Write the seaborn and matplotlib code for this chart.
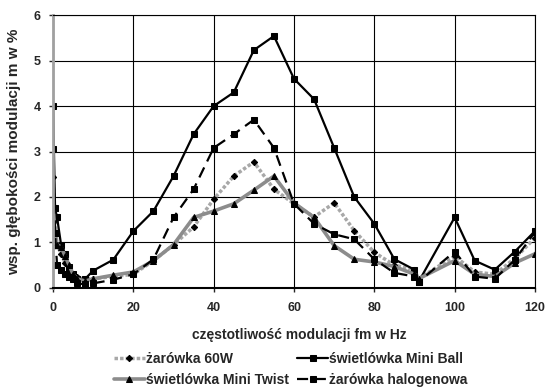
import numpy as np
import pandas as pd
import matplotlib
matplotlib.use('Agg')
import matplotlib.pyplot as plt
import seaborn as sns

# data
freq = [0, 0.5, 1, 2, 3, 4, 5, 6, 8, 10, 15, 20, 25, 30, 35, 40, 45, 50, 55,
        60, 65, 70, 75, 80, 85, 90, 91, 100, 105, 110, 115, 120]

zarowka_60w = [2.45, 1.5, 0.95, 0.75, 0.55, 0.4, 0.3, 0.25, 0.2, 0.2, 0.25, 0.3, 0.6,
               0.95, 1.34, 1.95, 2.46, 2.77, 2.17, 1.85, 1.56, 1.87, 1.26, 0.78, 0.5,
               0.4, 0.2, 0.7, 0.35, 0.3, 0.65, 1.1]
mini_ball = [4.0, 1.75, 1.55, 0.95, 0.75, 0.45, 0.3, 0.2, 0.2, 0.38, 0.62, 1.25, 1.69,
             2.46, 3.38, 4.0, 4.3, 5.23, 5.54, 4.6, 4.15, 3.08, 2.0, 1.41, 0.63,
             0.4, 0.13, 1.55, 0.6, 0.4, 0.8, 1.25]
mini_twist = [1.8, 1.2, 0.95, 0.9, 0.7, 0.5, 0.3, 0.2, 0.15, 0.2, 0.28, 0.35, 0.6,
              0.95, 1.55, 1.69, 1.85, 2.15, 2.46, 1.87, 1.55, 0.93, 0.63, 0.57, 0.47,
              0.3, 0.2, 0.6, 0.3, 0.25, 0.55, 0.75]
halogen = [3.05, 1.2, 0.5, 0.4, 0.3, 0.25, 0.2, 0.1, 0.08, 0.1, 0.18, 0.3, 0.63,
           1.55, 2.17, 3.08, 3.38, 3.7, 3.08, 1.85, 1.41, 1.18, 1.07, 0.63, 0.33,
           0.25, 0.13, 0.8, 0.25, 0.2, 0.62, 1.23]

labels = ['żarówka 60W', 'świetlówka Mini Ball', 'świetlówka Mini Twist', 'żarówka halogenowa']

sns.set_style('white')
plt.rcParams['font.family'] = ['Liberation Sans', 'DejaVu Sans']
plt.rcParams['font.weight'] = 'bold'

fig = plt.figure(figsize=(5.47, 3.88), dpi=100)
ax = fig.add_axes([0.097, 0.258, 0.881, 0.703])

styles = {
    labels[0]: dict(color='#a8a8a8', linestyle=(0, (1, 0.6)), linewidth=2.5, marker='D',
                    markersize=3.2, markerfacecolor='black', markeredgecolor='black'),
    labels[1]: dict(color='black', linestyle='-', linewidth=1.6, marker='s',
                    markersize=4, markerfacecolor='black', markeredgecolor='black'),
    labels[2]: dict(color='#8c8c8c', linestyle='-', linewidth=2.6, marker='^',
                    markersize=4, markerfacecolor='black', markeredgecolor='black'),
    labels[3]: dict(color='black', linestyle=(0, (5, 3)), linewidth=1.6, marker='s',
                    markersize=4.5, markerfacecolor='black', markeredgecolor='black'),
}

series = [zarowka_60w, mini_ball, mini_twist, halogen]
for lab, vals in zip(labels, series):
    df = pd.DataFrame({'f': freq, 'm': vals})
    sns.lineplot(data=df, x='f', y='m', ax=ax, estimator=None, sort=False,
                 label=lab, **styles[lab])

ax.set_xlim(0, 120)
ax.set_ylim(0, 6)
ax.set_xticks(range(0, 121, 20))
ax.set_yticks(range(0, 7))
ax.grid(True, color='black', linewidth=0.8)
for s in ['top', 'right', 'bottom']:
    ax.spines[s].set_color('black')
    ax.spines[s].set_linewidth(0.8)
ax.spines['bottom'].set_linewidth(1.5)
ax.spines['left'].set_color('#a0a0a0')
ax.spines['left'].set_linewidth(2)
ax.tick_params(axis='both', length=3, width=1, labelsize=9, direction='out',
               bottom=True, left=True)
ax.tick_params(axis='x', pad=7)
ax.tick_params(axis='y', pad=6)
for t in ax.get_xticklabels() + ax.get_yticklabels():
    t.set_fontweight('bold')

ax.set_xlabel('częstotliwość modulacji fm w Hz', fontsize=10, fontweight='bold')
ax.xaxis.set_label_coords(0.512, -0.148)
ax.set_ylabel('wsp. głębokości modulacji m w %', fontsize=11, fontweight='bold', labelpad=9)

h, l = ax.get_legend_handles_labels()
ax.get_legend().remove()
order = [0, 2, 1, 3]
fig.legend([h[i] for i in order], [l[i] for i in order], ncol=2, frameon=False,
           loc='upper center', bbox_to_anchor=(0.532, 0.107), fontsize=10,
           handlelength=2.2, handletextpad=0.1, columnspacing=0.6, labelspacing=0.5,
           borderaxespad=0)

fig.savefig('out.png', dpi=100)
